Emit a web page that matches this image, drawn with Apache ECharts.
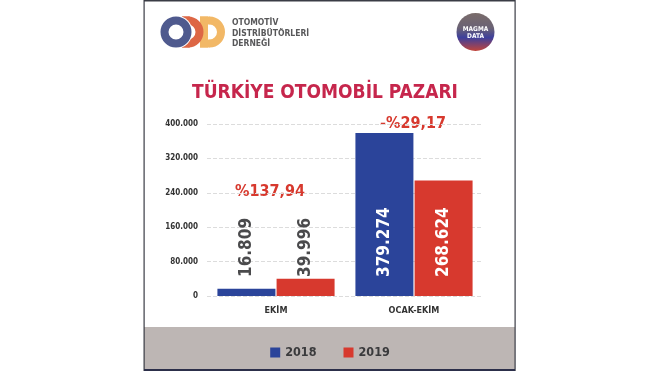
<!DOCTYPE html>
<html>
<head>
<meta charset="utf-8">
<script src="https://cdn.jsdelivr.net/npm/echarts@6/dist/echarts.min.js"></script>
<style>html,body{margin:0;padding:0;background:#fff}#c{width:660px;height:371px}</style>
</head>
<body>
<div id="c"></div>
<script>
var categories = ['EKİM', 'OCAK-EKİM'];
var seriesNames = ['2018', '2019'];
var values2018 = [16809, 379274];
var values2019 = [39996, 268624];
var changeLabels = ['%137,94', '-%29,17'];
var yTicks = [0, 80000, 160000, 240000, 320000, 400000];
var titleText = 'TÜRKİYE OTOMOBİL PAZARI';
var logoLines = ['OTOMOTİV', 'DİSTRİBÜTÖRLERİ', 'DERNEĞİ'];

var NARROW = "'DejaVu Sans Condensed','Roboto',sans-serif";
var BLUE = '#2b449a', RED = '#d7392e';

function fmt(v){ return v === 0 ? '0' : v.toLocaleString('de-DE'); }

function dShape(x0, cx, color){
  var R = 15.5, r = 7.5, cy = 32, t = R - r;
  return { type: 'group', children: [
    { type: 'rect', shape: { x: x0, y: cy - R, width: cx - x0 + 0.5, height: t }, style: { fill: color } },
    { type: 'rect', shape: { x: x0, y: cy + r, width: cx - x0 + 0.5, height: t }, style: { fill: color } },
    { type: 'rect', shape: { x: x0, y: cy - R, width: t, height: 2 * R }, style: { fill: color } },
    { type: 'sector', shape: { cx: cx, cy: cy, r: R, r0: r, startAngle: -Math.PI / 2, endAngle: Math.PI / 2, clockwise: true }, style: { fill: color } }
  ]};
}

function makeSeries(name, vals, color){
  return {
    name: name, type: 'bar', barWidth: 58, barGap: '2%',
    itemStyle: { color: color },
    data: vals.map(function(v, i){
      return { value: v, label: { color: i === 0 ? '#4a4a4c' : '#ffffff' } };
    }),
    label: {
      show: true, position: 'insideBottom', distance: 19, rotate: 90,
      align: 'left', verticalAlign: 'middle',
      fontSize: 17, fontWeight: 'bold', fontFamily: NARROW,
      formatter: function(p){ return fmt(p.value); }
    }
  };
}

var chart = echarts.init(document.getElementById('c'));
var graphics = [
  { type: 'rect', shape: { x: 144, y: 327, width: 371, height: 43 }, style: { fill: '#bdb6b4' }, z: -5 },
  { type: 'rect', shape: { x: 144, y: 0, width: 371, height: 1.5 }, style: { fill: '#3a3c45' } },
  { type: 'rect', shape: { x: 143.5, y: 0, width: 1.2, height: 371 }, style: { fill: '#3a3c45' } },
  { type: 'rect', shape: { x: 514.5, y: 0, width: 1.2, height: 371 }, style: { fill: '#3a3c45' } },
  { type: 'rect', shape: { x: 144, y: 369, width: 371, height: 2 }, style: { fill: '#2c2f4a' } },
  dShape(200, 209.5, '#f2b866'),
  dShape(182, 188, '#dd6645'),
  { type: 'circle', shape: { cx: 176, cy: 32, r: 16.5 }, style: { fill: '#ffffff' } },
  { type: 'ring', shape: { cx: 176, cy: 32, r: 15.5, r0: 7.5 }, style: { fill: '#4f5a8e' } },
  { type: 'circle', shape: { cx: 475.5, cy: 32, r: 19 },
    style: { fill: new echarts.graphic.LinearGradient(0, 0, 0, 1, [
      { offset: 0, color: '#7a6c6a' }, { offset: 0.4, color: '#6a6275' },
      { offset: 0.65, color: '#3d3f9c' }, { offset: 1, color: '#c2453b' }]) } },
  { type: 'text', x: 475.5, y: 29, style: { text: 'MAGMA', fill: '#fff', font: 'bold 6.5px ' + NARROW, textAlign: 'center', textVerticalAlign: 'middle' } },
  { type: 'text', x: 475.5, y: 36.5, style: { text: 'DATA', fill: '#fff', font: 'bold 6.5px ' + NARROW, textAlign: 'center', textVerticalAlign: 'middle' } },
  { type: 'text', x: 325, y: 93, style: { text: titleText, fill: '#c6264c', font: 'bold 19px ' + NARROW, textAlign: 'center', textVerticalAlign: 'middle' } },
  { type: 'text', x: 270, y: 192, style: { text: changeLabels[0], fill: RED, font: 'bold 16px ' + NARROW, textAlign: 'center', textVerticalAlign: 'middle' } },
  { type: 'text', x: 413, y: 124, style: { text: changeLabels[1], fill: RED, font: 'bold 16px ' + NARROW, textAlign: 'center', textVerticalAlign: 'middle' } }
];
logoLines.forEach(function(t, i){
  graphics.push({ type: 'text', x: 232, y: 23 + i * 10.5, style: { text: t, fill: '#58585a', font: 'bold 8.5px ' + NARROW, textAlign: 'left', textVerticalAlign: 'middle' } });
});

chart.setOption({
  backgroundColor: '#ffffff',
  animation: false,
  grid: { left: 207, right: 177, top: 124, bottom: 75 },
  legend: {
    data: seriesNames, top: 341, left: 'center', icon: 'rect',
    itemWidth: 10, itemHeight: 10, itemGap: 27,
    textStyle: { fontSize: 12.5, fontWeight: 'bold', color: '#3a3a3c', fontFamily: NARROW }
  },
  xAxis: {
    type: 'category', data: categories,
    axisLine: { show: false }, axisTick: { show: false },
    axisLabel: { fontSize: 9, fontWeight: 'bold', color: '#333', margin: 10, fontFamily: NARROW }
  },
  yAxis: {
    type: 'value', min: yTicks[0], max: yTicks[yTicks.length - 1], interval: yTicks[1] - yTicks[0],
    axisLine: { show: false }, axisTick: { show: false },
    axisLabel: { fontSize: 8, fontWeight: 'bold', color: '#333', margin: 9, fontFamily: NARROW, formatter: fmt },
    splitLine: { lineStyle: { type: 'dashed', color: '#dcdcdc' } }
  },
  graphic: graphics,
  series: [ makeSeries(seriesNames[0], values2018, BLUE), makeSeries(seriesNames[1], values2019, RED) ]
});
</script>
</body>
</html>
